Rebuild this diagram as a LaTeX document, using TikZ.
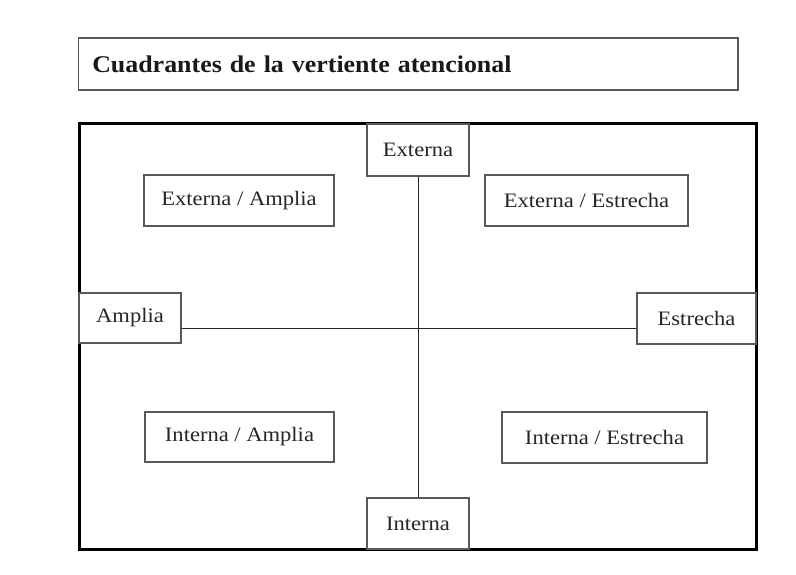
\documentclass[tikz,border=0pt]{standalone}
\usepackage{fontspec}
\setmainfont{Liberation Serif}
\newfontfamily\widefont[FakeStretch=1.1]{Liberation Serif}
\newfontfamily\widebold[FakeStretch=1.08]{Liberation Serif Bold}
\begin{document}
\begin{tikzpicture}[x=1pt,y=-1pt,
  box/.style={draw=black!65,line width=1.2pt,fill=white,inner sep=0pt,
    font=\widefont\fontsize{20.5}{23}\selectfont,text=black!85},
  frm/.style={draw=black,line width=3pt,inner sep=0pt},
  conn/.style={draw=black!85,line width=1pt}]
\useasboundingbox (0,0) rectangle (796,575);
\node[draw=black!65,line width=1.2pt,inner sep=0pt,minimum width=659.5pt,minimum height=52pt,
  text width=632pt,align=left,font=\widebold\fontsize{24}{27}\selectfont,text=black!90]
  (title) at (408.25,64) {Cuadrantes de la vertiente atencional};
\node[frm,minimum width=677pt,minimum height=425pt] (frame) at (417.5,336.5) {};
\node[box,minimum width=102pt,minimum height=52pt] (ext) at (418,150) {Externa};
\node[box,minimum width=102pt,minimum height=51pt] (int) at (418,523.5) {Interna};
\node[box,minimum width=102pt,minimum height=50pt] (amp) at (130,318) {Amplia};
\node[box,minimum width=119pt,minimum height=51pt] (est) at (696.5,318.5) {Estrecha};
\node[box,minimum width=190pt,minimum height=51pt] (ea) at (239,200.5) {Externa / Amplia};
\node[box,minimum width=203pt,minimum height=51pt] (ee) at (586.5,200.5) {Externa / Estrecha};
\node[box,minimum width=189pt,minimum height=50pt] (ia) at (239.5,437) {Interna / Amplia};
\node[box,minimum width=205pt,minimum height=51pt] (ie) at (604.5,437.5) {Interna / Estrecha};
\coordinate (c) at (418,328);
\draw[conn] (amp.east |- c) -- (est.west |- c);
\draw[conn] (ext.south) -- (int.north);
\end{tikzpicture}
\end{document}
